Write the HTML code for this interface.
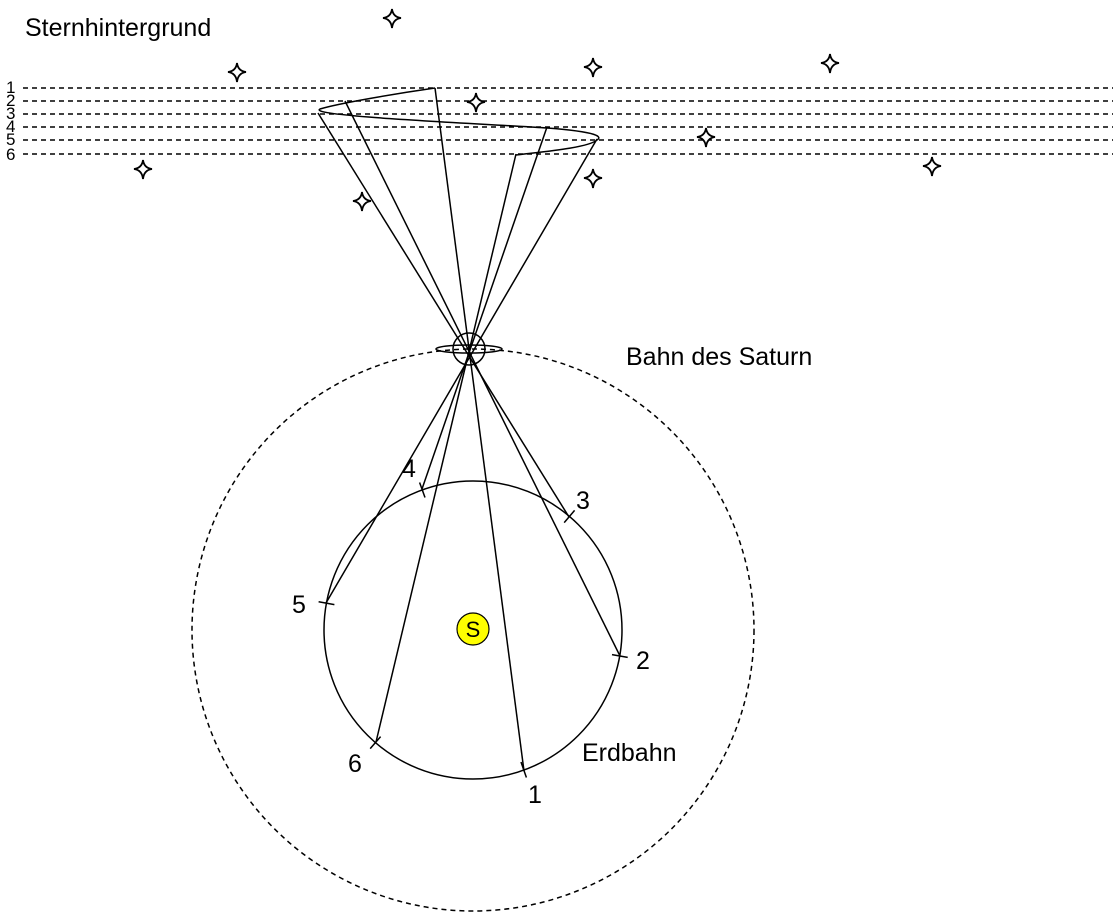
<!DOCTYPE html>
<html><head><meta charset="utf-8"><style>
html,body{margin:0;padding:0;background:#fff;}
svg{display:block;}
text{font-family:"Liberation Sans",Arial,sans-serif;fill:#000;}
</style></head><body>
<svg width="1118" height="916" viewBox="0 0 1118 916" xmlns="http://www.w3.org/2000/svg">
<defs>
<path id="st" d="M0,-9 Q1,-1 9,0 Q1,1 0,10 Q-1,1 -9,0 Q-1,-1 0,-9 Z" fill="#fff" stroke="#000" stroke-width="1.8" stroke-linejoin="miter"/>
</defs>
<g stroke="#000" stroke-width="1.5" stroke-dasharray="5,4" fill="none">
<line x1="23" y1="88" x2="1113" y2="88"/>
<line x1="23" y1="101" x2="1113" y2="101"/>
<line x1="23" y1="114" x2="1113" y2="114"/>
<line x1="23" y1="127" x2="1113" y2="127"/>
<line x1="23" y1="140" x2="1113" y2="140"/>
<line x1="23" y1="154" x2="1113" y2="154"/>
<circle cx="473" cy="630" r="281"/>
</g>
<g font-size="17">
<text x="6" y="93">1</text><text x="6" y="106">2</text><text x="6" y="119">3</text>
<text x="6" y="132">4</text><text x="6" y="145">5</text><text x="6" y="160">6</text>
</g>
<use href="#st" x="392" y="18"/><use href="#st" x="237" y="72"/><use href="#st" x="593" y="67"/>
<use href="#st" x="830" y="63"/><use href="#st" x="476" y="102"/><use href="#st" x="706" y="137"/>
<use href="#st" x="143" y="169"/><use href="#st" x="593" y="178"/><use href="#st" x="362" y="201"/>
<use href="#st" x="932" y="166"/>
<g stroke="#000" stroke-width="1.5" fill="none">
<path d="M435,88 C400,93 340,103 320,109 C306,116 470,123 547,128 C600,132 602,137 597,140 C588,148 540,152 516,155"/>
<line x1="524" y1="771" x2="435" y2="88"/>
<line x1="620" y1="656" x2="345" y2="101"/>
<line x1="569" y1="517" x2="318" y2="113"/>
<line x1="422" y1="489" x2="547" y2="127"/>
<line x1="326" y1="603" x2="597" y2="139"/>
<line x1="376" y1="742" x2="516" y2="154"/>
<circle cx="473" cy="630" r="149"/>
<line x1="521" y1="762" x2="526.4" y2="777.5"/>
<line x1="612" y1="654.6" x2="627.7" y2="657.4"/>
<line x1="564.2" y1="522.6" x2="574.6" y2="510.4"/>
<line x1="425" y1="497.5" x2="419.6" y2="482.5"/>
<line x1="334.4" y1="604.6" x2="318.6" y2="601.8"/>
<line x1="380.6" y1="736.6" x2="370.2" y2="748.6"/>
<ellipse cx="469" cy="349" rx="33" ry="4"/>
<circle cx="469" cy="349" r="16"/>
</g>
<circle cx="473" cy="629" r="16" fill="#ffff00" stroke="#000" stroke-width="1.2"/>
<text x="473" y="637" font-size="22" text-anchor="middle">S</text>
<text x="25" y="36" font-size="25">Sternhintergrund</text>
<text x="626" y="365" font-size="25">Bahn des Saturn</text>
<text x="582" y="761" font-size="25">Erdbahn</text>
<g font-size="25">
<text x="402" y="477">4</text><text x="576" y="509">3</text><text x="292" y="613">5</text>
<text x="636" y="669">2</text><text x="348" y="772">6</text><text x="528" y="803">1</text>
</g>
</svg>
</body></html>
